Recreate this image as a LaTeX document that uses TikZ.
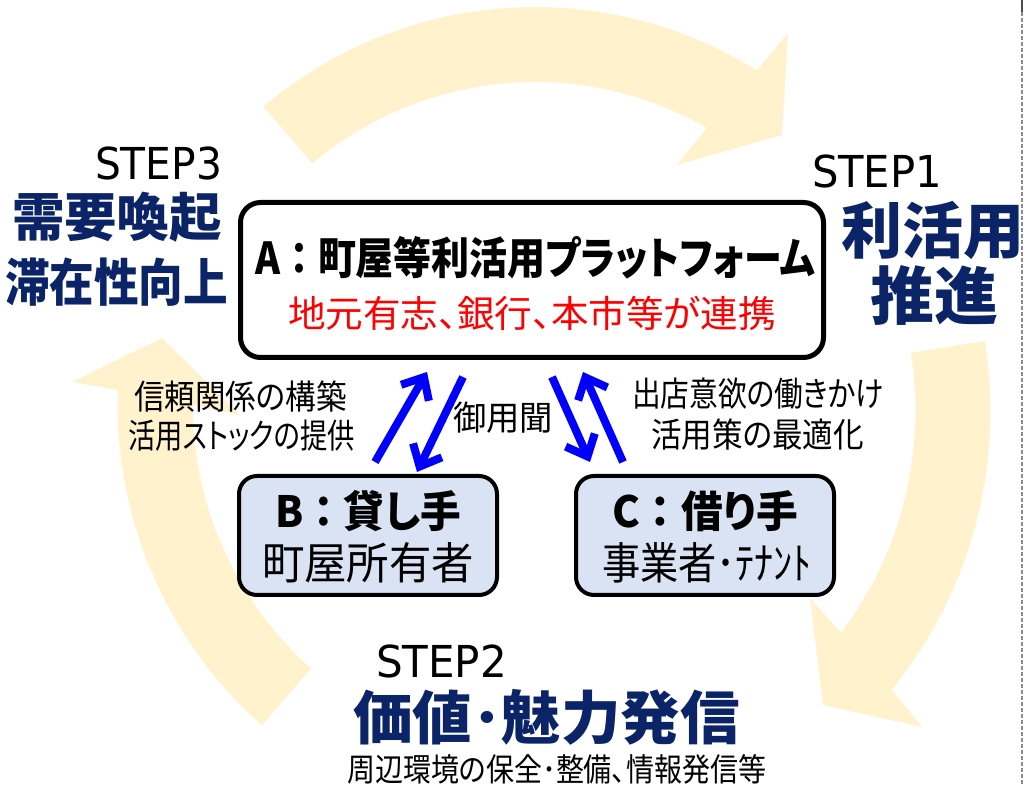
\documentclass[tikz,border=0pt]{standalone}
\usepackage{fontspec}
\usepackage{graphicx}
\usetikzlibrary{arrows.meta}
\newfontfamily\jp[RawFeature=+palt]{Noto Sans CJK JP}
\newfontfamily\jpn{Noto Sans CJK JP}
\newfontfamily\dv{DejaVu Sans}
\definecolor{arcY}{HTML}{FFF2CC}
\definecolor{navy}{HTML}{0B2467}
\definecolor{boxblue}{HTML}{DAE3F3}
\definecolor{dashgray}{HTML}{8C8C8C}
\newsavebox\fitbox
\newlength\fitlen
\newcommand\fitto[2]{\sbox\fitbox{#2}\setlength\fitlen{\wd\fitbox}\pgfmathsetmacro\fitfac{#1/\fitlen}\scalebox{\fitfac}[1]{\usebox\fitbox}}
\newcommand\fsz[1]{\fontsize{#1}{#1}\selectfont}
\newcommand\wcolon{{\jpn\bfseries ：}}
\tikzset{
  txt/.style={inner sep=0pt, anchor=center, font=\jp},
  navytxt/.style={txt, text=navy},
  steptxt/.style={inner sep=0pt, anchor=center, font=\dv},
  cyclearrow/.style={fill=arcY, draw=none},
  boxA/.style={draw=black, line width=5pt, fill=white, rounded corners=20pt, minimum width=583pt, minimum height=155pt, inner sep=0pt},
  boxBC/.style={draw=black, line width=4pt, fill=boxblue, rounded corners=18pt, minimum width=258pt, minimum height=119pt, inner sep=0pt},
  bluearrow/.style={draw=blue, line width=8pt, -{Straight Barb[length=18pt,width=32pt]}},
  dashline/.style={draw=dashgray, line width=2pt, dash pattern=on 4pt off 2pt}
}
\newcommand\navyt[6]{%
  \node[navytxt] (#1) at (#2,#3) {\fsz{#5}\bfseries\fitto{#4}{#6}};}
\begin{document}
\begin{tikzpicture}[x=1pt,y=1pt]
\useasboundingbox (0,0) rectangle (1026,786);
% cycle arrows
\fill[cyclearrow] ([shift={(130.3:420pt)}]535,359) arc[start angle=130.3, end angle=58.1, radius=420pt]
  -- (788,753) -- (782,651) -- (677,621) -- (707,658)
  arc[start angle=60.1, end angle=130.2, radius=345pt] -- cycle;
\fill[cyclearrow] ([shift={(9.1:443pt)}]547.5,375) arc[start angle=9.1, end angle=-39.0, radius=443pt]
  -- (922,59) -- (823,81) -- (810,188) -- (840.9,153)
  arc[start angle=-37.1, end angle=9.1, radius=368pt] -- cycle;
\fill[cyclearrow] ([shift={(228.4:429pt)}]546.6,381.6) arc[start angle=228.4, end angle=178.1, radius=429pt]
  -- (72,404) -- (162,448) -- (240,371) -- (192.6,381)
  arc[start angle=180.1, end angle=228.3, radius=354pt] -- cycle;
% right dashed border
\draw[dashline] (1022,774) -- (1022,0);
\draw[draw=black!70, line width=2.5pt] (1022,786) -- (1022,774);
% boxes
\node[boxA] (A) at (532,506) {};
\node[boxBC] (B) at (368,250.5) {};
\node[boxBC] (C) at (705,250.5) {};
% box texts
\node[txt] (tA) at (535,528.5) {\fsz{44}\bfseries\fitto{560}{A\wcolon 町屋等利活用プラットフォーム}};
\node[txt, text=red] (tA2) at (532,472.5) {\fsz{37}\fitto{488}{地元有志、銀行、本市等が連携}};
\node[txt] (tB1) at (368,275) {\fsz{43}\bfseries\fitto{186}{B\wcolon 貸し手}};
\node[txt] (tB2) at (368,223.5) {\fsz{44}\fitto{212}{町屋所有者}};
\node[txt] (tC1) at (705,275) {\fsz{43}\bfseries\fitto{186}{C\wcolon 借り手}};
\node[txt] (tC2) at (707,223.5) {\fsz{44}\fitto{210}{事業者･ﾃﾅﾝﾄ}};
% labels
\node[txt] (l1) at (240.5,389) {\fsz{34}\fitto{213}{信頼関係の構築}};
\node[txt] (l2) at (241.5,350) {\fsz{34}\fitto{227}{活用ストックの提供}};
\node[txt] (m) at (503,368) {\fsz{34}\fitto{100}{御用聞}};
\node[txt] (r1) at (758,392) {\fsz{34}\fitto{252}{出店意欲の働きかけ}};
\node[txt] (r2) at (757.5,351) {\fsz{34}\fitto{213}{活用策の最適化}};
\node[txt] (bot) at (556.5,17) {\fsz{32}\fitto{419}{周辺環境の保全･整備、情報発信等}};
% step labels
\node[steptxt] (s3) at (158.5,623) {\fsz{44}\fitto{127}{STEP3}};
\node[steptxt] (s1) at (877,615) {\fsz{44}\fitto{130}{STEP1}};
\node[steptxt] (s2) at (441.5,125) {\fsz{44}\fitto{131}{STEP2}};
% navy headings
\navyt{n3a}{117}{568.5}{210}{52}{需要喚起}
\navyt{n3b}{116.5}{503.5}{223}{51}{滞在性向上}
\navyt{n1a}{932.5}{556}{183}{61}{利活用}
\navyt{n1b}{934}{491}{128}{63}{推進}
\navyt{n2}{546.5}{68.5}{387}{58}{価値･魅力発信}
% blue arrows
\coordinate (a1s) at (375,324); \coordinate (a1e) at (427,414);
\coordinate (a2s) at (463,409); \coordinate (a2e) at (417,314);
\coordinate (a3s) at (552,409); \coordinate (a3e) at (590,324);
\coordinate (a4s) at (623,324); \coordinate (a4e) at (583,414);
\draw[bluearrow] (a1s) -- (a1e);
\draw[bluearrow] (a2s) -- (a2e);
\draw[bluearrow] (a3s) -- (a3e);
\draw[bluearrow] (a4s) -- (a4e);
\end{tikzpicture}
\end{document}
